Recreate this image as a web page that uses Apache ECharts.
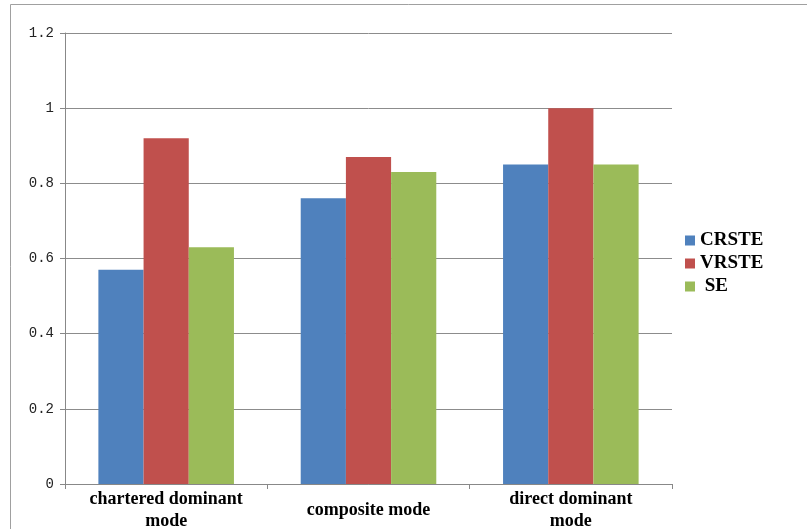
<!DOCTYPE html>
<html>
<head>
<meta charset="utf-8">
<script src="https://cdn.jsdelivr.net/npm/echarts@6/dist/echarts.min.js"></script>
<style>
  html, body { margin: 0; padding: 0; background: #fff; }
  #chart { width: 807px; height: 529px; }
</style>
</head>
<body>
<div id="chart"></div>
<script>
// Modes compared along the category axis
const categories = ['chartered dominant\nmode', 'composite mode', 'direct dominant\nmode'];

// Series values per mode
const crsteValues = [0.57, 0.76, 0.85];
const vrsteValues = [0.92, 0.87, 1.00];
const seValues    = [0.63, 0.83, 0.85];

const seriesNames = ['CRSTE', 'VRSTE', ' SE'];
const seriesColors = ['#4F81BD', '#C0504D', '#9BBB59'];

// Value axis ticks
const yMin = 0, yMax = 1.2, yStep = 0.2;

const chart = echarts.init(document.getElementById('chart'), null, { renderer: 'canvas' });

const serifBold = { fontFamily: 'Liberation Serif', fontWeight: 'bold', color: '#000' };

const seriesData = [crsteValues, vrsteValues, seValues];

chart.setOption({
  animation: false,
  backgroundColor: '#fff',
  graphic: [
    // frame lines along the top and left edges
    { type: 'line', shape: { x1: 10.5, y1: 4.5, x2: 807, y2: 4.5 }, style: { stroke: '#a0a0a0', lineWidth: 1 } },
    { type: 'line', shape: { x1: 10.5, y1: 4.5, x2: 10.5, y2: 529 }, style: { stroke: '#a0a0a0', lineWidth: 1 } }
  ],
  grid: { left: 65, right: 135, top: 33, bottom: 45, containLabel: false, outerBoundsMode: 'none' },
  legend: {
    orient: 'vertical',
    left: 680,
    top: 226,
    itemWidth: 10,
    itemHeight: 10,
    itemGap: 4,
    icon: 'rect',
    textStyle: Object.assign({}, serifBold, { fontSize: 19 }),
    data: seriesNames
  },
  xAxis: {
    type: 'category',
    data: categories,
    axisLine: { lineStyle: { color: '#888', width: 1 } },
    axisTick: { show: true, length: 5, lineStyle: { color: '#888' } },
    axisLabel: Object.assign({}, serifBold, {
      fontSize: 18, interval: 0, margin: 26, verticalAlign: 'middle', lineHeight: 22, align: 'center'
    })
  },
  yAxis: {
    type: 'value',
    min: yMin,
    max: yMax,
    interval: yStep,
    axisLine: { show: true, lineStyle: { color: '#888', width: 1 } },
    axisTick: { show: true, length: 5, lineStyle: { color: '#888' } },
    splitLine: { lineStyle: { color: '#8c8c8c', width: 1 } },
    axisLabel: {
      margin: 11,
      fontFamily: 'Liberation Mono',
      fontSize: 14,
      color: '#222',
      formatter: v => (v === 0 ? '0' : (Math.round(v * 10) / 10).toString())
    }
  },
  series: seriesData.map((vals, i) => ({
    name: seriesNames[i],
    type: 'bar',
    data: vals,
    barGap: '0%',
    barCategoryGap: '33%',
    itemStyle: { color: seriesColors[i] }
  }))
});
</script>
</body>
</html>
